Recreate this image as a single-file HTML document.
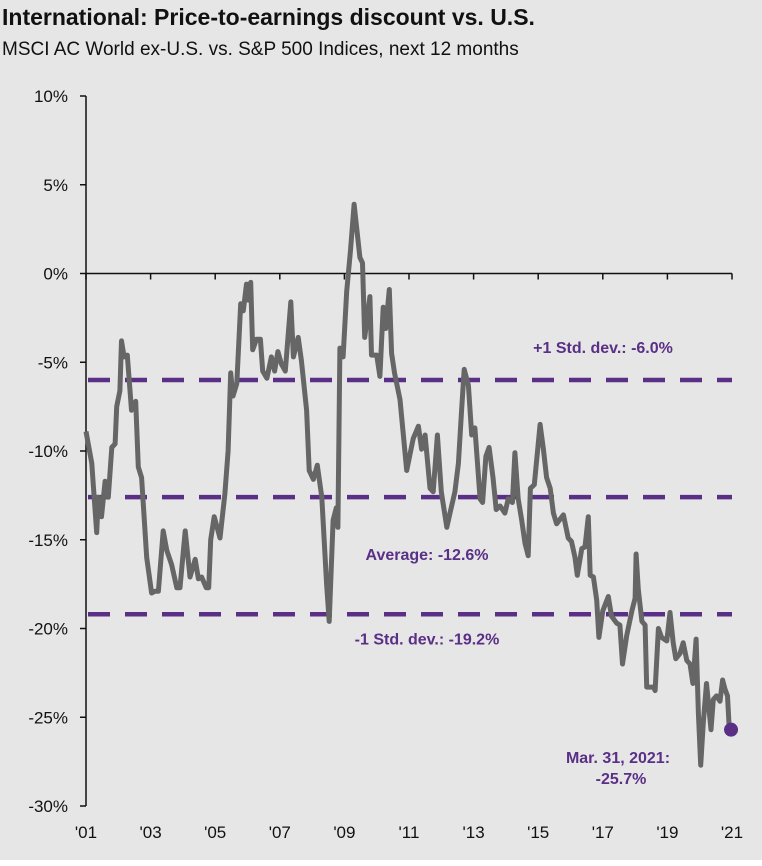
<!DOCTYPE html>
<html><head><meta charset="utf-8">
<style>
html,body{margin:0;padding:0;background:#e6e6e6;}
body{width:762px;height:866px;overflow:hidden;font-family:"Liberation Sans",Arial,sans-serif;}
</style></head>
<body>
<svg id="chart" width="762" height="866" xmlns="http://www.w3.org/2000/svg" style="position:absolute;left:0;top:0">
<rect width="762" height="866" fill="#e6e6e6"/>
<rect x="0" y="860" width="762" height="6" fill="#ffffff"/>
<text x="2" y="25" font-size="23" font-weight="bold" fill="#111">International: Price-to-earnings discount vs. U.S.</text>
<text x="2" y="55" font-size="19" fill="#111">MSCI AC World ex-U.S. vs. S&amp;P 500 Indices, next 12 months</text>
<g id="g"></g>
</svg>
<script>
const yTicks=[10,5,0,-5,-10,-15,-20,-25,-30];
const xTickYears=[2001,2003,2005,2007,2009,2011,2013,2015,2017,2019,2021];
const xTickLabels=["'01","'03","'05","'07","'09","'11","'13","'15","'17","'19","'21"];
const refValues=[-6.0,-12.6,-19.2];
const refLabels=["+1 Std. dev.: -6.0%","Average: -12.6%","-1 Std. dev.: -19.2%"];
const dates=[2001.0,2001.18,2001.23,2001.33,2001.38,2001.48,2001.59,2001.69,2001.8,2001.9,2001.95,2002.05,2002.1,2002.18,2002.28,2002.41,2002.54,2002.62,2002.72,2002.88,2003.03,2003.14,2003.24,2003.39,2003.5,2003.65,2003.81,2003.91,2004.07,2004.22,2004.38,2004.48,2004.58,2004.72,2004.8,2004.86,2004.97,2005.15,2005.3,2005.4,2005.48,2005.55,2005.67,2005.79,2005.87,2005.97,2006.02,2006.1,2006.16,2006.28,2006.4,2006.47,2006.6,2006.74,2006.84,2006.94,2007.05,2007.17,2007.34,2007.42,2007.57,2007.67,2007.83,2007.91,2008.04,2008.16,2008.3,2008.45,2008.53,2008.65,2008.75,2008.8,2008.86,2008.96,2009.07,2009.19,2009.3,2009.48,2009.56,2009.63,2009.79,2009.84,2010.0,2010.1,2010.2,2010.28,2010.39,2010.46,2010.55,2010.72,2010.93,2011.13,2011.29,2011.39,2011.5,2011.65,2011.75,2011.88,2012.0,2012.17,2012.27,2012.42,2012.53,2012.63,2012.71,2012.84,2012.94,2013.04,2013.2,2013.28,2013.38,2013.48,2013.6,2013.7,2013.82,2013.97,2014.07,2014.2,2014.28,2014.38,2014.49,2014.59,2014.69,2014.76,2014.88,2015.06,2015.16,2015.26,2015.37,2015.47,2015.57,2015.78,2015.93,2016.03,2016.14,2016.21,2016.35,2016.45,2016.55,2016.61,2016.71,2016.81,2016.88,2017.0,2017.17,2017.27,2017.43,2017.53,2017.61,2017.74,2017.9,2018.0,2018.03,2018.1,2018.21,2018.31,2018.36,2018.57,2018.62,2018.72,2018.82,2018.98,2019.08,2019.18,2019.26,2019.39,2019.49,2019.6,2019.7,2019.79,2019.89,2019.96,2020.03,2020.11,2020.21,2020.35,2020.42,2020.52,2020.63,2020.71,2020.78,2020.86,2020.92,2020.97];
const values=[-8.9,-10.7,-12.0,-14.6,-12.6,-13.7,-11.7,-12.6,-9.8,-9.6,-7.5,-6.6,-3.8,-4.7,-4.6,-7.7,-7.2,-10.9,-11.5,-16.0,-18.0,-17.9,-17.9,-14.5,-15.6,-16.4,-17.7,-17.7,-14.5,-17.1,-16.1,-17.2,-17.1,-17.7,-17.7,-15.0,-13.7,-14.9,-12.4,-10.0,-5.6,-6.9,-6.2,-1.7,-2.1,-0.6,-1.5,-0.5,-4.3,-3.7,-3.7,-5.5,-5.9,-4.7,-5.5,-4.4,-5.1,-5.5,-1.6,-4.7,-3.6,-4.9,-7.7,-11.1,-11.6,-10.8,-12.6,-17.5,-19.6,-13.9,-13.2,-14.3,-4.2,-4.7,-1.0,1.3,3.9,0.9,0.6,-3.6,-1.3,-4.6,-4.6,-5.8,-1.9,-3.1,-0.9,-4.5,-5.6,-7.1,-11.1,-9.3,-8.6,-9.9,-9.1,-12.1,-12.3,-9.1,-12.3,-14.3,-13.5,-12.3,-10.7,-7.7,-5.4,-6.3,-9.1,-8.7,-12.7,-12.9,-10.3,-9.8,-11.5,-13.3,-13.1,-13.5,-12.7,-12.9,-10.1,-12.7,-13.9,-15.2,-15.9,-12.1,-11.9,-8.5,-9.9,-11.5,-12.1,-13.5,-14.1,-13.6,-14.9,-15.1,-16.0,-17.0,-15.5,-15.4,-13.7,-17.0,-17.1,-18.4,-20.5,-19.0,-18.2,-19.3,-19.7,-19.8,-22.0,-20.4,-19.0,-18.3,-15.8,-17.8,-19.6,-19.8,-23.3,-23.3,-23.5,-20.0,-20.5,-20.7,-19.1,-20.8,-21.7,-21.4,-20.8,-21.8,-22.0,-23.1,-20.6,-24.8,-27.7,-25.3,-23.1,-25.7,-24.0,-23.8,-24.1,-22.9,-23.4,-23.8,-25.8,-25.7];

const NS="http://www.w3.org/2000/svg";
const g=document.getElementById('g');
const X0=86,X1=732,Y0=96,Y1=806;
function xs(t){return X0+(t-2001)*(X1-X0)/20;}
function ys(v){return Y0+(10-v)*(Y1-Y0)/40;}
function el(tag,attrs,parent){const e=document.createElementNS(NS,tag);for(const k in attrs)e.setAttribute(k,attrs[k]);(parent||g).appendChild(e);return e;}
const purple="#5a2f86";

let a=el('line',{x1:X0,y1:Y0,x2:X0,y2:Y1,stroke:'#111','stroke-width':1.5});


yTicks.forEach(v=>{
  const t=el('line',{x1:X0-6,y1:ys(v),x2:X0,y2:ys(v),stroke:'#111','stroke-width':1.5});
  
  
  const l=el('text',{x:68,y:ys(v)+6,'text-anchor':'end','font-size':17,fill:'#111'});
  l.textContent=v+'%';
  
  
});
a=el('line',{x1:X0,y1:ys(0),x2:X1,y2:ys(0),stroke:'#111','stroke-width':1.5});


xTickYears.forEach((yr,i)=>{
  const t=el('line',{x1:xs(yr),y1:ys(0),x2:xs(yr),y2:ys(0)+6,stroke:'#111','stroke-width':1.5});
  
  
  const l=el('text',{x:xs(yr),y:838,'text-anchor':'middle','font-size':17,fill:'#111'});
  l.textContent=xTickLabels[i];
  
  
});
refValues.forEach((v,i)=>{
  const d=el('line',{x1:X0+2,y1:ys(v),x2:X1,y2:ys(v),stroke:purple,'stroke-width':4.5,'stroke-dasharray':'22 15'});
  
  
});
const lp=[[603,-6.0,-27],[427,-12.6,63],[427,-19.2,30]];
refLabels.forEach((s,i)=>{
  const l=el('text',{x:lp[i][0],y:ys(lp[i][1])+lp[i][2],'text-anchor':'middle','font-size':16,'font-weight':'bold',fill:purple});
  l.textContent=s;
  
  
});
let dstr='';
dates.forEach((t,i)=>{dstr+=(i?'L':'M')+xs(t).toFixed(1)+','+ys(values[i]).toFixed(1);});
const p=el('path',{d:dstr,fill:'none',stroke:'#666','stroke-width':5,'stroke-linejoin':'round'});


const last=values.length-1;
const dot=el('circle',{cx:xs(dates[last]),cy:ys(values[last]),r:7,fill:purple});


const l1=el('text',{x:618,y:763,'text-anchor':'middle','font-size':16,'font-weight':'bold',fill:purple});
l1.textContent='Mar. 31, 2021:';


const l2=el('text',{x:621,y:784,'text-anchor':'middle','font-size':16,'font-weight':'bold',fill:purple});
l2.textContent='-25.7%';


</script>
</body></html>
